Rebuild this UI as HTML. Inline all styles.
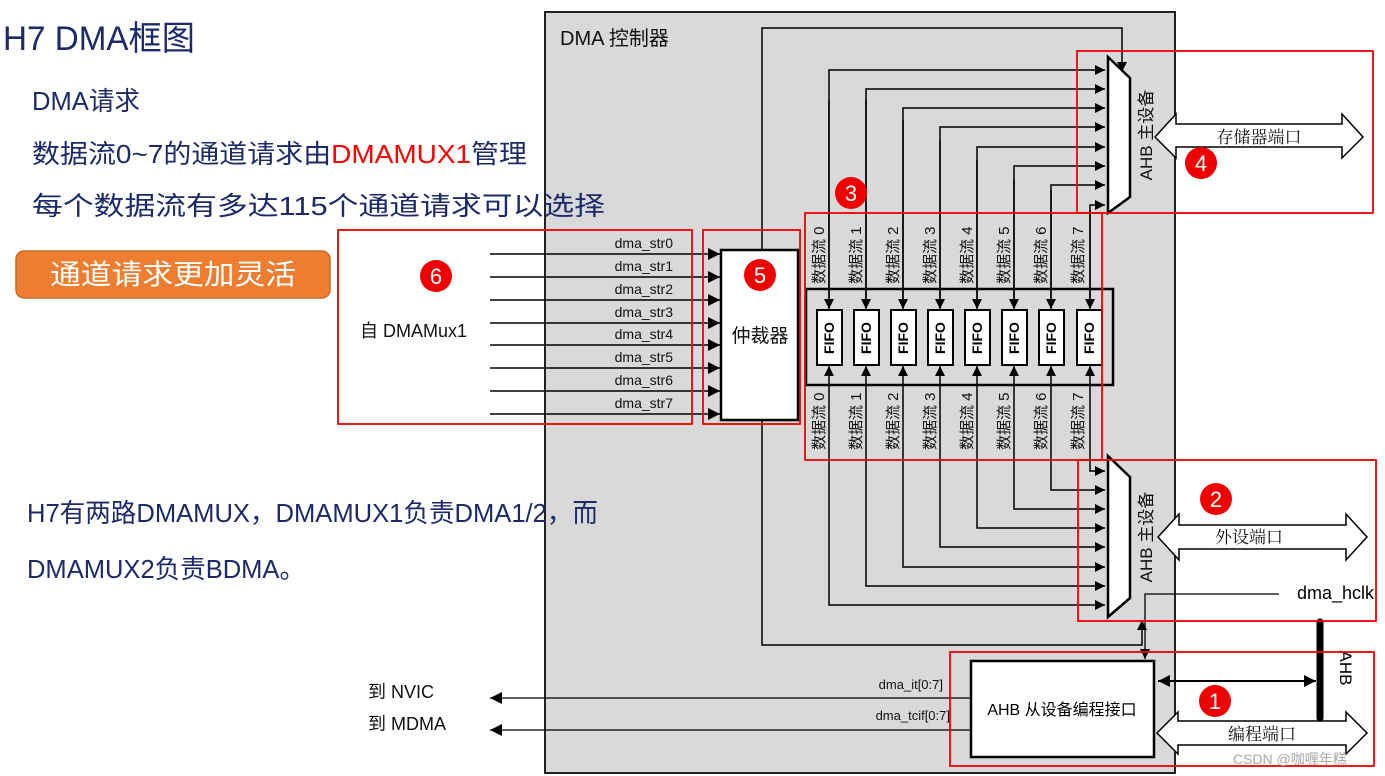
<!DOCTYPE html>
<html><head><meta charset="utf-8"><style>
html,body{margin:0;padding:0;background:#fff;}
svg{display:block;}
.cn{font-family:"Liberation Sans","Noto Sans CJK SC",sans-serif;}
.nv{font-family:"Liberation Sans","Noto Sans CJK SC",sans-serif;fill:#1c2a6a;}
.sf{font-family:"Liberation Serif","Noto Serif CJK SC",serif;}
</style></head><body>
<svg width="1385" height="776" viewBox="0 0 1385 776" xmlns="http://www.w3.org/2000/svg">
<defs>
<marker id="a" viewBox="0 0 10 10" refX="10" refY="5" markerWidth="10" markerHeight="10" markerUnits="userSpaceOnUse" orient="auto-start-reverse"><path d="M0,0 L10,5 L0,10 z" fill="#000"/></marker>
<marker id="b" viewBox="0 0 10 10" refX="10" refY="5" markerWidth="14" markerHeight="12" markerUnits="userSpaceOnUse" orient="auto-start-reverse"><path d="M0,0 L10,5 L0,10 z" fill="#000"/></marker>
</defs>

<!-- DMA box -->
<rect x="545" y="12" width="630" height="761" fill="#d9d9d9" stroke="#222" stroke-width="2"/>
<text x="560" y="45" class="cn" font-size="20" fill="#111">DMA 控制器</text>

<!-- input lines -->
<g stroke="#000" stroke-width="1.5" marker-end="url(#b)">
<line x1="490" y1="254" x2="720" y2="254"/><line x1="490" y1="277" x2="720" y2="277"/>
<line x1="490" y1="300" x2="720" y2="300"/><line x1="490" y1="323" x2="720" y2="323"/>
<line x1="490" y1="345" x2="720" y2="345"/><line x1="490" y1="368" x2="720" y2="368"/>
<line x1="490" y1="391" x2="720" y2="391"/><line x1="490" y1="414" x2="720" y2="414"/>
</g>
<g class="cn" font-size="14" fill="#111" text-anchor="end">
<text x="673" y="248">dma_str0</text><text x="673" y="271">dma_str1</text><text x="673" y="294">dma_str2</text><text x="673" y="317">dma_str3</text>
<text x="673" y="339">dma_str4</text><text x="673" y="362">dma_str5</text><text x="673" y="385">dma_str6</text><text x="673" y="408">dma_str7</text>
</g>
<text x="360" y="337" class="cn" font-size="18" fill="#111">自 DMAMux1</text>

<!-- arbiter loop lines -->
<polyline points="762,250 762,28 1122,28 1122,72" fill="none" stroke="#000" stroke-width="1.5" marker-end="url(#a)"/>
<polyline points="762,420 762,645 1142,645 1142,620" fill="none" stroke="#000" stroke-width="1.5" marker-end="url(#a)"/>
<rect x="721" y="250" width="77" height="170" fill="#fff" stroke="#000" stroke-width="2.5"/>
<text x="760" y="342" class="cn" font-size="19" fill="#111" text-anchor="middle">仲裁器</text>

<!-- FIFO enclosure -->
<rect x="806" y="289" width="307" height="96" fill="#d9d9d9" stroke="#000" stroke-width="2.5"/>
<g stroke="#000" stroke-width="1.5" fill="none">
<polyline points="829,308 829,70 1105,70" marker-end="url(#a)"/>
<polyline points="866,308 866,89 1105,89" marker-end="url(#a)"/>
<polyline points="903,308 903,108 1105,108" marker-end="url(#a)"/>
<polyline points="940,308 940,127 1105,127" marker-end="url(#a)"/>
<polyline points="977,308 977,147 1105,147" marker-end="url(#a)"/>
<polyline points="1014,308 1014,166 1105,166" marker-end="url(#a)"/>
<polyline points="1051,308 1051,185 1105,185" marker-end="url(#a)"/>
<polyline points="1090,308 1090,205 1105,205" marker-end="url(#a)"/>
<line x1="829" y1="100" x2="829" y2="309" marker-end="url(#a)"/>
<line x1="866" y1="100" x2="866" y2="309" marker-end="url(#a)"/>
<line x1="903" y1="120" x2="903" y2="309" marker-end="url(#a)"/>
<line x1="940" y1="140" x2="940" y2="309" marker-end="url(#a)"/>
<line x1="977" y1="160" x2="977" y2="309" marker-end="url(#a)"/>
<line x1="1014" y1="180" x2="1014" y2="309" marker-end="url(#a)"/>
<line x1="1051" y1="190" x2="1051" y2="309" marker-end="url(#a)"/>
<line x1="1090" y1="210" x2="1090" y2="309" marker-end="url(#a)"/>
<polyline points="829,366 829,605 1105,605" marker-start="url(#a)" marker-end="url(#a)"/>
<polyline points="866,366 866,586 1105,586" marker-start="url(#a)" marker-end="url(#a)"/>
<polyline points="903,366 903,567 1105,567" marker-start="url(#a)" marker-end="url(#a)"/>
<polyline points="940,366 940,547 1105,547" marker-start="url(#a)" marker-end="url(#a)"/>
<polyline points="977,366 977,528 1105,528" marker-start="url(#a)" marker-end="url(#a)"/>
<polyline points="1014,366 1014,509 1105,509" marker-start="url(#a)" marker-end="url(#a)"/>
<polyline points="1051,366 1051,490 1105,490" marker-start="url(#a)" marker-end="url(#a)"/>
<polyline points="1090,366 1090,471 1105,471" marker-start="url(#a)" marker-end="url(#a)"/>
</g>
<g fill="#fff" stroke="#000" stroke-width="2">
<rect x="817" y="310" width="25" height="55"/><rect x="854" y="310" width="25" height="55"/>
<rect x="891" y="310" width="25" height="55"/><rect x="928" y="310" width="25" height="55"/>
<rect x="965" y="310" width="25" height="55"/><rect x="1002" y="310" width="25" height="55"/>
<rect x="1039" y="310" width="25" height="55"/><rect x="1077" y="310" width="25" height="55"/>
</g>
<g class="cn" font-size="14" font-weight="bold" fill="#000" text-anchor="middle">
<text transform="translate(834,338) rotate(-90)">FIFO</text><text transform="translate(871,338) rotate(-90)">FIFO</text>
<text transform="translate(908,338) rotate(-90)">FIFO</text><text transform="translate(945,338) rotate(-90)">FIFO</text>
<text transform="translate(982,338) rotate(-90)">FIFO</text><text transform="translate(1019,338) rotate(-90)">FIFO</text>
<text transform="translate(1056,338) rotate(-90)">FIFO</text><text transform="translate(1094,338) rotate(-90)">FIFO</text>
</g>
<g class="cn" font-size="15" fill="#111">
<text transform="translate(824,284) rotate(-90)">数据流 0</text><text transform="translate(861,284) rotate(-90)">数据流 1</text>
<text transform="translate(898,284) rotate(-90)">数据流 2</text><text transform="translate(935,284) rotate(-90)">数据流 3</text>
<text transform="translate(972,284) rotate(-90)">数据流 4</text><text transform="translate(1009,284) rotate(-90)">数据流 5</text>
<text transform="translate(1046,284) rotate(-90)">数据流 6</text><text transform="translate(1083,284) rotate(-90)">数据流 7</text>
<text transform="translate(824,450) rotate(-90)">数据流 0</text><text transform="translate(861,450) rotate(-90)">数据流 1</text>
<text transform="translate(898,450) rotate(-90)">数据流 2</text><text transform="translate(935,450) rotate(-90)">数据流 3</text>
<text transform="translate(972,450) rotate(-90)">数据流 4</text><text transform="translate(1009,450) rotate(-90)">数据流 5</text>
<text transform="translate(1046,450) rotate(-90)">数据流 6</text><text transform="translate(1083,450) rotate(-90)">数据流 7</text>
</g>

<!-- muxes -->
<polygon points="1108,57 1130,78 1130,197 1108,213" fill="#fff" stroke="#000" stroke-width="2.5"/>
<polygon points="1108,456 1130,477 1130,598 1108,617" fill="#fff" stroke="#000" stroke-width="2.5"/>
<text transform="translate(1152,135) rotate(-90)" class="cn" font-size="17" fill="#111" text-anchor="middle">AHB 主设备</text>
<text transform="translate(1152,537) rotate(-90)" class="cn" font-size="17" fill="#111" text-anchor="middle">AHB 主设备</text>

<!-- port arrows -->
<polygon points="1155,137 1176,114 1176,124 1342,124 1342,114 1363,137 1342,158 1342,147 1176,147 1176,158" fill="#fff" stroke="#000" stroke-width="1.5"/>
<text x="1259" y="143" class="sf" font-size="17" fill="#111" text-anchor="middle">存储器端口</text>
<polygon points="1158,537 1179,514 1179,525 1346,525 1346,514 1367,537 1346,560 1346,549 1179,549 1179,560" fill="#fff" stroke="#000" stroke-width="1.5"/>
<text x="1249" y="543" class="sf" font-size="17" fill="#111" text-anchor="middle">外设端口</text>
<polygon points="1157,733 1178,712 1178,721 1346,721 1346,712 1367,733 1346,754 1346,745 1178,745 1178,754" fill="#fff" stroke="#000" stroke-width="1.5"/>
<text x="1262" y="740" class="sf" font-size="17" fill="#111" text-anchor="middle">编程端口</text>

<!-- dma_hclk -->
<polyline points="1279,594 1145,594 1145,659" fill="none" stroke="#000" stroke-width="1.3" marker-end="url(#a)"/>
<text x="1297" y="599" class="cn" font-size="18" fill="#000">dma_hclk</text>

<!-- slave box -->
<line x1="490" y1="698" x2="971" y2="698" stroke="#000" stroke-width="1.3" marker-start="url(#b)"/>
<line x1="490" y1="730" x2="971" y2="730" stroke="#000" stroke-width="1.3" marker-start="url(#b)"/>
<text x="943" y="689" class="cn" font-size="13" fill="#111" text-anchor="end">dma_it[0:7]</text>
<text x="950" y="720" class="cn" font-size="13" fill="#111" text-anchor="end">dma_tcif[0:7]</text>
<text x="368" y="698" class="cn" font-size="18" fill="#111">到 NVIC</text>
<text x="368" y="730" class="cn" font-size="18" fill="#111">到 MDMA</text>
<rect x="971" y="661" width="183" height="96" fill="#fff" stroke="#000" stroke-width="2.5"/>
<text x="1062" y="715" class="cn" font-size="16" fill="#000" text-anchor="middle">AHB 从设备编程接口</text>
<line x1="1320" y1="622" x2="1320" y2="718" stroke="#000" stroke-width="7" stroke-linecap="round"/>
<line x1="1158" y1="681" x2="1316" y2="681" stroke="#000" stroke-width="2" marker-start="url(#b)" marker-end="url(#b)"/>
<text transform="translate(1340,668) rotate(90)" class="cn" font-size="17" fill="#000" text-anchor="middle">AHB</text>

<!-- left texts (drawn on top) -->
<text x="3" y="50" class="nv" font-size="34" textLength="192" lengthAdjust="spacingAndGlyphs">H7 DMA框图</text>
<text x="32" y="110" class="nv" font-size="26" textLength="108" lengthAdjust="spacingAndGlyphs">DMA请求</text>
<text x="32" y="163" class="nv" font-size="26" textLength="495" lengthAdjust="spacingAndGlyphs">数据流0~7的通道请求由<tspan fill="#ff0000">DMAMUX1</tspan>管理</text>
<text x="32" y="215" class="nv" font-size="26" textLength="573" lengthAdjust="spacingAndGlyphs">每个数据流有多达115个通道请求可以选择</text>
<rect x="16" y="251" width="314" height="47" rx="8" fill="#ed7d31" stroke="#c96a28" stroke-width="1.5"/>
<text x="173" y="284" class="cn" font-size="28" fill="#fff" text-anchor="middle" textLength="246" lengthAdjust="spacingAndGlyphs">通道请求更加灵活</text>
<text x="27" y="522" class="nv" font-size="26" textLength="571" lengthAdjust="spacingAndGlyphs">H7有两路DMAMUX，DMAMUX1负责DMA1/2，而</text>
<text x="27" y="578" class="nv" font-size="26" textLength="278" lengthAdjust="spacingAndGlyphs">DMAMUX2负责BDMA。</text>

<!-- red boxes -->
<g fill="none" stroke="#ee0000" stroke-width="1.8">
<rect x="1077" y="51" width="296" height="162"/>
<rect x="805" y="213" width="297" height="247"/>
<rect x="703" y="230" width="97" height="194"/>
<rect x="338" y="230" width="354" height="194"/>
<rect x="1078" y="460" width="298" height="161"/>
<rect x="950" y="652" width="424" height="114"/>
</g>
<g fill="#ee0000">
<circle cx="851" cy="193" r="16"/><circle cx="1201" cy="163" r="16"/><circle cx="760" cy="275" r="16"/>
<circle cx="436" cy="276" r="16"/><circle cx="1216" cy="499" r="16"/><circle cx="1215" cy="701" r="16"/>
</g>
<g class="cn" font-size="22" fill="#fff" text-anchor="middle">
<text x="851" y="201">3</text><text x="1201" y="171">4</text><text x="760" y="283">5</text>
<text x="436" y="284">6</text><text x="1216" y="507">2</text><text x="1215" y="709">1</text>
</g>
<text x="1233" y="764" class="cn" font-size="14" fill="#aaa">CSDN @咖喱年糕</text>
</svg>
</body></html>
